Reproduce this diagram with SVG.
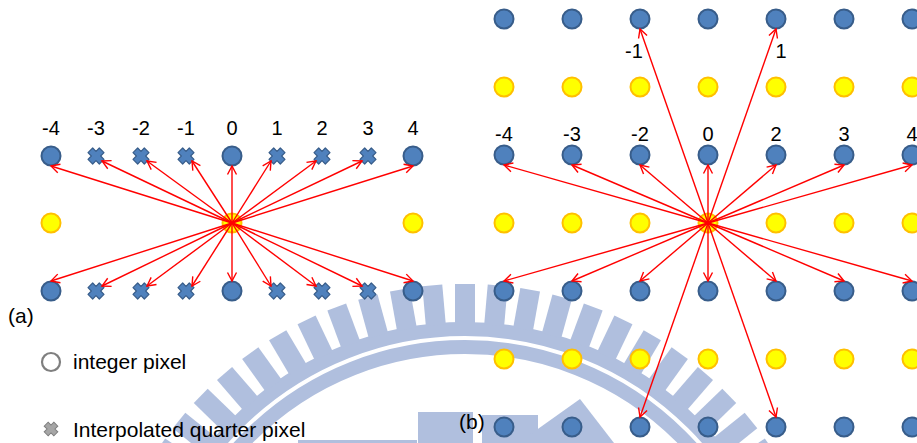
<svg xmlns="http://www.w3.org/2000/svg" xmlns:xlink="http://www.w3.org/1999/xlink" width="917" height="443" viewBox="0 0 917 443">
  <style>
    .lbl { font-family: "Liberation Sans", Arial, sans-serif; font-size: 20px; fill: #000; text-anchor: middle; }
    .txt { font-family: "Liberation Sans", Arial, sans-serif; font-size: 21px; fill: #000; }
    .ip { fill: #4F81BD; stroke: #385D8A; stroke-width: 2; }
    .hp { fill: #FFFF00; stroke: #FFC000; stroke-width: 2; }
    .qp { fill: #4F81BD; stroke: #385D8A; stroke-width: 1.2; stroke-linejoin: round; }
    .wm { fill: #B0BFDE; }
    .wmr { fill: none; stroke: #B0BFDE; }
    .arr { stroke: #FF0000; stroke-width: 1.4; fill: none; marker-end: url(#ah); }
  </style>
  <defs>
    <marker id="ah" markerUnits="userSpaceOnUse" markerWidth="20" markerHeight="20" refX="10" refY="10" orient="auto" overflow="visible">
      <path d="M1.5,5.5 L10,10 L1.5,14.5" fill="none" stroke="#FF0000" stroke-width="1.4"/>
    </marker>
    <!-- thick X mark (plus sign turned 45 degrees) -->
    <path id="xmark" transform="rotate(45)" d="M-3.3,-8 L3.3,-8 L3.3,-3.3 L8,-3.3 L8,3.3 L3.3,3.3 L3.3,8 L-3.3,8 L-3.3,3.3 L-8,3.3 L-8,-3.3 L-3.3,-3.3 Z"/>
    <rect id="tooth" x="-10" y="-368" width="20" height="40"/>
  </defs>

  <!-- background seal -->
  <g id="seal">
    <circle class="wmr" cx="465" cy="652" r="323" stroke-width="14"/>
    <circle class="wmr" cx="465" cy="652" r="305" stroke-width="14"/>
    <g class="wm" transform="translate(465,652)">
      <use xlink:href="#tooth" transform="rotate(-66.3)"/>
      <use xlink:href="#tooth" transform="rotate(-61.2)"/>
      <use xlink:href="#tooth" transform="rotate(-56.1)"/>
      <use xlink:href="#tooth" transform="rotate(-51)"/>
      <use xlink:href="#tooth" transform="rotate(-45.9)"/>
      <use xlink:href="#tooth" transform="rotate(-40.8)"/>
      <use xlink:href="#tooth" transform="rotate(-35.7)"/>
      <use xlink:href="#tooth" transform="rotate(-30.6)"/>
      <use xlink:href="#tooth" transform="rotate(-25.5)"/>
      <use xlink:href="#tooth" transform="rotate(-20.4)"/>
      <use xlink:href="#tooth" transform="rotate(-15.3)"/>
      <use xlink:href="#tooth" transform="rotate(-10.2)"/>
      <use xlink:href="#tooth" transform="rotate(-5.1)"/>
      <use xlink:href="#tooth"/>
      <use xlink:href="#tooth" transform="rotate(5.1)"/>
      <use xlink:href="#tooth" transform="rotate(10.2)"/>
      <use xlink:href="#tooth" transform="rotate(15.3)"/>
      <use xlink:href="#tooth" transform="rotate(20.4)"/>
      <use xlink:href="#tooth" transform="rotate(25.5)"/>
      <use xlink:href="#tooth" transform="rotate(30.6)"/>
      <use xlink:href="#tooth" transform="rotate(35.7)"/>
      <use xlink:href="#tooth" transform="rotate(40.8)"/>
      <use xlink:href="#tooth" transform="rotate(45.9)"/>
      <use xlink:href="#tooth" transform="rotate(51)"/>
      <use xlink:href="#tooth" transform="rotate(56.1)"/>
      <use xlink:href="#tooth" transform="rotate(61.2)"/>
      <use xlink:href="#tooth" transform="rotate(66.3)"/>
    </g>
    <rect class="wm" x="298" y="440" width="119" height="3"/>
    <rect class="wm" x="418" y="412" width="55" height="31"/>
    <rect class="wm" x="482" y="415" width="56" height="28"/>
    <polygon class="wm" points="528,436 580,399 614,443 534,443"/>
  </g>

  <!-- (a) one-dimensional layout -->
  <g id="a-labels">
    <text class="lbl" x="51" y="135">-4</text>
    <text class="lbl" x="96" y="135">-3</text>
    <text class="lbl" x="141" y="135">-2</text>
    <text class="lbl" x="186" y="135">-1</text>
    <text class="lbl" x="232" y="135">0</text>
    <text class="lbl" x="277" y="135">1</text>
    <text class="lbl" x="322" y="135">2</text>
    <text class="lbl" x="368" y="135">3</text>
    <text class="lbl" x="413" y="135">4</text>
  </g>

  <g id="a-top-m4"><circle class="ip" cx="51" cy="156" r="9.5"/></g>
  <g id="a-top-m3"><use class="qp" xlink:href="#xmark" x="96" y="156"/></g>
  <g id="a-top-m2"><use class="qp" xlink:href="#xmark" x="141" y="156"/></g>
  <g id="a-top-m1"><use class="qp" xlink:href="#xmark" x="186" y="156"/></g>
  <g id="a-top-0"><circle class="ip" cx="232" cy="156" r="9.5"/></g>
  <g id="a-top-p1"><use class="qp" xlink:href="#xmark" x="277" y="156"/></g>
  <g id="a-top-p2"><use class="qp" xlink:href="#xmark" x="322" y="156"/></g>
  <g id="a-top-p3"><use class="qp" xlink:href="#xmark" x="368" y="156"/></g>
  <g id="a-top-p4"><circle class="ip" cx="413" cy="156" r="9.5"/></g>

  <g id="a-mid-left"><circle class="hp" cx="51" cy="223" r="9.5"/></g>
  <g id="a-mid-centre"><circle class="hp" cx="232" cy="223" r="9.5"/></g>
  <g id="a-mid-right"><circle class="hp" cx="413" cy="223" r="9.5"/></g>

  <g id="a-bot-m4"><circle class="ip" cx="51" cy="291" r="9.5"/></g>
  <g id="a-bot-m3"><use class="qp" xlink:href="#xmark" x="96" y="291"/></g>
  <g id="a-bot-m2"><use class="qp" xlink:href="#xmark" x="141" y="291"/></g>
  <g id="a-bot-m1"><use class="qp" xlink:href="#xmark" x="186" y="291"/></g>
  <g id="a-bot-0"><circle class="ip" cx="232" cy="291" r="9.5"/></g>
  <g id="a-bot-p1"><use class="qp" xlink:href="#xmark" x="277" y="291"/></g>
  <g id="a-bot-p2"><use class="qp" xlink:href="#xmark" x="322" y="291"/></g>
  <g id="a-bot-p3"><use class="qp" xlink:href="#xmark" x="368" y="291"/></g>
  <g id="a-bot-p4"><circle class="ip" cx="413" cy="291" r="9.5"/></g>

  <text class="txt" x="8" y="323">(a)</text>

  <!-- legend -->
  <g id="legend-integer">
    <circle cx="51" cy="362" r="9" fill="none" stroke="#7F7F7F" stroke-width="2.2"/>
    <text class="txt" x="73" y="369">integer pixel</text>
  </g>
  <g id="legend-quarter">
    <use xlink:href="#xmark" x="0" y="0" transform="translate(51,429) scale(0.85)" fill="#A6A6A6" stroke="#7F7F7F" stroke-width="1.2"/>
    <text class="txt" x="73" y="437">Interpolated quarter pixel</text>
  </g>

  <!-- (b) two-dimensional layout -->
  <g id="b-labels">
    <text class="lbl" x="504" y="141">-4</text>
    <text class="lbl" x="572" y="141">-3</text>
    <text class="lbl" x="640" y="141">-2</text>
    <text class="lbl" x="708" y="141">0</text>
    <text class="lbl" x="776" y="141">2</text>
    <text class="lbl" x="844" y="141">3</text>
    <text class="lbl" x="912" y="141">4</text>
    <text class="lbl" x="634" y="58">-1</text>
    <text class="lbl" x="781" y="58">1</text>
  </g>

  <g id="b-r1">
    <g id="b-r1-c1"><circle class="ip" cx="504" cy="19" r="9.5"/></g>
    <g id="b-r1-c2"><circle class="ip" cx="572" cy="19" r="9.5"/></g>
    <g id="b-r1-c3"><circle class="ip" cx="640" cy="19" r="9.5"/></g>
    <g id="b-r1-c4"><circle class="ip" cx="708" cy="19" r="9.5"/></g>
    <g id="b-r1-c5"><circle class="ip" cx="776" cy="19" r="9.5"/></g>
    <g id="b-r1-c6"><circle class="ip" cx="844" cy="19" r="9.5"/></g>
    <g id="b-r1-c7"><circle class="ip" cx="912" cy="19" r="9.5"/></g>
  </g>
  <g id="b-r2">
    <g id="b-r2-c1"><circle class="hp" cx="504" cy="87" r="9.5"/></g>
    <g id="b-r2-c2"><circle class="hp" cx="572" cy="87" r="9.5"/></g>
    <g id="b-r2-c3"><circle class="hp" cx="640" cy="87" r="9.5"/></g>
    <g id="b-r2-c4"><circle class="hp" cx="708" cy="87" r="9.5"/></g>
    <g id="b-r2-c5"><circle class="hp" cx="776" cy="87" r="9.5"/></g>
    <g id="b-r2-c6"><circle class="hp" cx="844" cy="87" r="9.5"/></g>
    <g id="b-r2-c7"><circle class="hp" cx="912" cy="87" r="9.5"/></g>
  </g>
  <g id="b-r3">
    <g id="b-r3-c1"><circle class="ip" cx="504" cy="155" r="9.5"/></g>
    <g id="b-r3-c2"><circle class="ip" cx="572" cy="155" r="9.5"/></g>
    <g id="b-r3-c3"><circle class="ip" cx="640" cy="155" r="9.5"/></g>
    <g id="b-r3-c4"><circle class="ip" cx="708" cy="155" r="9.5"/></g>
    <g id="b-r3-c5"><circle class="ip" cx="776" cy="155" r="9.5"/></g>
    <g id="b-r3-c6"><circle class="ip" cx="844" cy="155" r="9.5"/></g>
    <g id="b-r3-c7"><circle class="ip" cx="912" cy="155" r="9.5"/></g>
  </g>
  <g id="b-r4">
    <g id="b-r4-c1"><circle class="hp" cx="504" cy="223" r="9.5"/></g>
    <g id="b-r4-c2"><circle class="hp" cx="572" cy="223" r="9.5"/></g>
    <g id="b-r4-c3"><circle class="hp" cx="640" cy="223" r="9.5"/></g>
    <g id="b-r4-c4"><circle class="hp" cx="708" cy="223" r="9.5"/></g>
    <g id="b-r4-c5"><circle class="hp" cx="776" cy="223" r="9.5"/></g>
    <g id="b-r4-c6"><circle class="hp" cx="844" cy="223" r="9.5"/></g>
    <g id="b-r4-c7"><circle class="hp" cx="912" cy="223" r="9.5"/></g>
  </g>
  <g id="b-r5">
    <g id="b-r5-c1"><circle class="ip" cx="504" cy="291" r="9.5"/></g>
    <g id="b-r5-c2"><circle class="ip" cx="572" cy="291" r="9.5"/></g>
    <g id="b-r5-c3"><circle class="ip" cx="640" cy="291" r="9.5"/></g>
    <g id="b-r5-c4"><circle class="ip" cx="708" cy="291" r="9.5"/></g>
    <g id="b-r5-c5"><circle class="ip" cx="776" cy="291" r="9.5"/></g>
    <g id="b-r5-c6"><circle class="ip" cx="844" cy="291" r="9.5"/></g>
    <g id="b-r5-c7"><circle class="ip" cx="912" cy="291" r="9.5"/></g>
  </g>
  <g id="b-r6">
    <g id="b-r6-c1"><circle class="hp" cx="504" cy="359" r="9.5"/></g>
    <g id="b-r6-c2"><circle class="hp" cx="572" cy="359" r="9.5"/></g>
    <g id="b-r6-c3"><circle class="hp" cx="640" cy="359" r="9.5"/></g>
    <g id="b-r6-c4"><circle class="hp" cx="708" cy="359" r="9.5"/></g>
    <g id="b-r6-c5"><circle class="hp" cx="776" cy="359" r="9.5"/></g>
    <g id="b-r6-c6"><circle class="hp" cx="844" cy="359" r="9.5"/></g>
    <g id="b-r6-c7"><circle class="hp" cx="912" cy="359" r="9.5"/></g>
  </g>
  <g id="b-r7">
    <g id="b-r7-c1"><circle class="ip" cx="504" cy="427" r="9.5"/></g>
    <g id="b-r7-c2"><circle class="ip" cx="572" cy="427" r="9.5"/></g>
    <g id="b-r7-c3"><circle class="ip" cx="640" cy="427" r="9.5"/></g>
    <g id="b-r7-c4"><circle class="ip" cx="708" cy="427" r="9.5"/></g>
    <g id="b-r7-c5"><circle class="ip" cx="776" cy="427" r="9.5"/></g>
    <g id="b-r7-c6"><circle class="ip" cx="844" cy="427" r="9.5"/></g>
    <g id="b-r7-c7"><circle class="ip" cx="912" cy="427" r="9.5"/></g>
  </g>

  <text class="txt" x="459" y="429">(b)</text>

  <!-- filter taps: arrows from the current sample to each reference pixel -->
  <g id="connectors">
    <g id="a-arrows">
      <line class="arr" x1="232" y1="223" x2="51" y2="166"/>
      <line class="arr" x1="232" y1="223" x2="102" y2="161"/>
      <line class="arr" x1="232" y1="223" x2="147" y2="161"/>
      <line class="arr" x1="232" y1="223" x2="192" y2="161"/>
      <line class="arr" x1="232" y1="223" x2="232" y2="166"/>
      <line class="arr" x1="232" y1="223" x2="271" y2="161"/>
      <line class="arr" x1="232" y1="223" x2="316" y2="161"/>
      <line class="arr" x1="232" y1="223" x2="362" y2="161"/>
      <line class="arr" x1="232" y1="223" x2="413" y2="166"/>
      <line class="arr" x1="232" y1="223" x2="51" y2="281"/>
      <line class="arr" x1="232" y1="223" x2="102" y2="286"/>
      <line class="arr" x1="232" y1="223" x2="147" y2="286"/>
      <line class="arr" x1="232" y1="223" x2="192" y2="286"/>
      <line class="arr" x1="232" y1="223" x2="232" y2="281"/>
      <line class="arr" x1="232" y1="223" x2="271" y2="286"/>
      <line class="arr" x1="232" y1="223" x2="316" y2="286"/>
      <line class="arr" x1="232" y1="223" x2="362" y2="286"/>
      <line class="arr" x1="232" y1="223" x2="413" y2="281"/>
    </g>
    <g id="b-arrows">
      <line class="arr" x1="708" y1="223" x2="504" y2="165"/>
      <line class="arr" x1="708" y1="223" x2="572" y2="165"/>
      <line class="arr" x1="708" y1="223" x2="640" y2="165"/>
      <line class="arr" x1="708" y1="223" x2="708" y2="165"/>
      <line class="arr" x1="708" y1="223" x2="776" y2="165"/>
      <line class="arr" x1="708" y1="223" x2="844" y2="165"/>
      <line class="arr" x1="708" y1="223" x2="912" y2="165"/>
      <line class="arr" x1="708" y1="223" x2="504" y2="281"/>
      <line class="arr" x1="708" y1="223" x2="572" y2="281"/>
      <line class="arr" x1="708" y1="223" x2="640" y2="281"/>
      <line class="arr" x1="708" y1="223" x2="708" y2="281"/>
      <line class="arr" x1="708" y1="223" x2="776" y2="281"/>
      <line class="arr" x1="708" y1="223" x2="844" y2="281"/>
      <line class="arr" x1="708" y1="223" x2="912" y2="281"/>
      <line class="arr" x1="708" y1="223" x2="640" y2="29"/>
      <line class="arr" x1="708" y1="223" x2="776" y2="29"/>
      <line class="arr" x1="708" y1="223" x2="640" y2="417"/>
      <line class="arr" x1="708" y1="223" x2="776" y2="417"/>
    </g>
  </g>
</svg>
